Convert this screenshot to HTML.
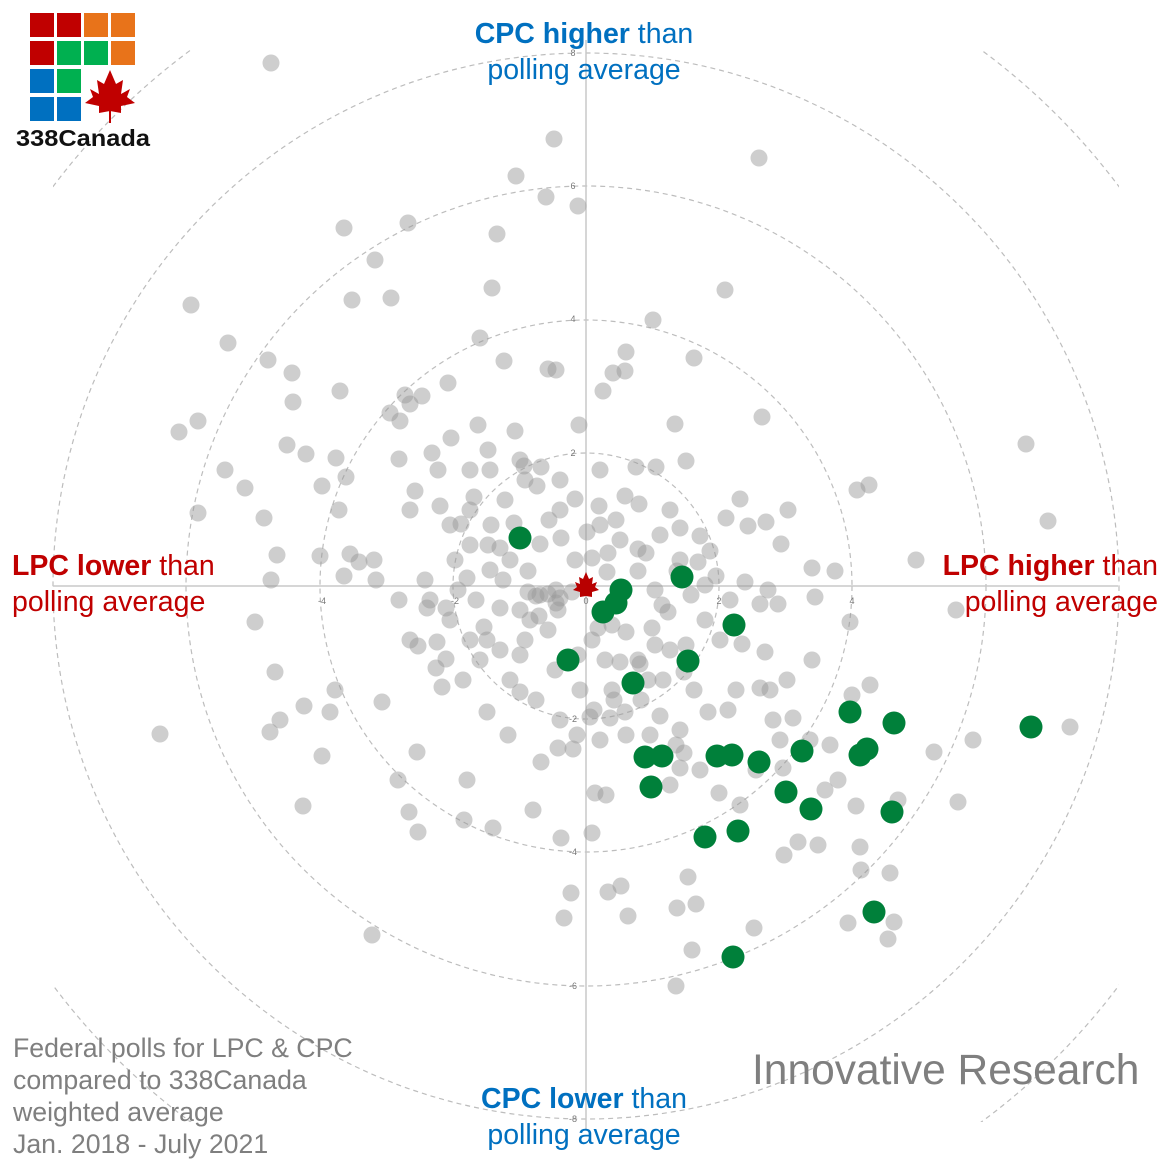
<!DOCTYPE html>
<html><head><meta charset="utf-8"><style>
html,body{margin:0;padding:0;background:#fff;overflow:hidden;}
svg{display:block;}
text{font-family:"Liberation Sans",sans-serif;}
</style></head><body>
<svg id="s" width="1172" height="1172" viewBox="0 0 1172 1172" xmlns="http://www.w3.org/2000/svg">
<defs><clipPath id="cp"><rect x="53" y="50" width="1066" height="1072"/></clipPath></defs>
<g fill="none" stroke="#bdbdbd" stroke-width="1.2" stroke-dasharray="5,4">
<circle cx="586" cy="586" r="133"/>
<circle cx="586" cy="586" r="266"/>
<circle cx="586" cy="586" r="400"/>
<circle cx="586" cy="586" r="533"/>
<circle cx="586" cy="586" r="666" clip-path="url(#cp)"/>
</g>
<line x1="586" y1="40" x2="586" y2="1130" stroke="#c8c8c8" stroke-width="1.5"/>
<line x1="53" y1="586" x2="1118" y2="586" stroke="#c8c8c8" stroke-width="1.5"/>
<g font-size="9" fill="#777" text-anchor="middle">
<text x="573" y="189">6</text><text x="573" y="322">4</text><text x="573" y="456">2</text><text x="573" y="56">8</text>
<text x="573" y="722">-2</text><text x="573" y="855">-4</text><text x="573" y="989">-6</text><text x="573" y="1122">-8</text>
<text x="719" y="604">2</text><text x="852" y="604">4</text><text x="455" y="604">-2</text><text x="322" y="604">-4</text><text x="586" y="604">0</text>
</g>
<g id="gray" fill="#999" fill-opacity="0.48"></g>
<path d="M586,572 l3,7 4,-2 -1,7 5,-2 -2,5 4,3 -7,2 0,5 -6,-1 -6,1 0,-5 -7,-2 4,-3 -2,-5 5,2 -1,-7 4,2z" fill="#b80000"/>
<g id="green" fill="#00803a"></g>
<g font-size="28.5">
<text x="584" y="43" text-anchor="middle" fill="#0070c0"><tspan font-weight="bold">CPC higher</tspan> than</text>
<text x="584" y="79" text-anchor="middle" fill="#0070c0">polling average</text>
<text x="584" y="1108" text-anchor="middle" fill="#0070c0"><tspan font-weight="bold">CPC lower</tspan> than</text>
<text x="584" y="1144" text-anchor="middle" fill="#0070c0">polling average</text>
<text x="12" y="575" fill="#c00000"><tspan font-weight="bold">LPC lower</tspan> than</text>
<text x="12" y="611" fill="#c00000">polling average</text>
<text x="1158" y="575" text-anchor="end" fill="#c00000"><tspan font-weight="bold">LPC higher</tspan> than</text>
<text x="1158" y="611" text-anchor="end" fill="#c00000">polling average</text>
</g>
<g font-size="26.7" fill="#7f7f7f">
<text x="13" y="1057">Federal polls for LPC &amp; CPC</text>
<text x="13" y="1089">compared to 338Canada</text>
<text x="13" y="1121">weighted average</text>
<text x="13" y="1153">Jan. 2018 - July 2021</text>
</g>
<text x="752" y="1084" font-size="42.5" fill="#7f7f7f">Innovative Research</text>
<g>
<rect x="30" y="13" width="24" height="24" fill="#c00000"/><rect x="57" y="13" width="24" height="24" fill="#c00000"/><rect x="84" y="13" width="24" height="24" fill="#e8731a"/><rect x="111" y="13" width="24" height="24" fill="#e8731a"/>
<rect x="30" y="41" width="24" height="24" fill="#c00000"/><rect x="57" y="41" width="24" height="24" fill="#00b050"/><rect x="84" y="41" width="24" height="24" fill="#00b050"/><rect x="111" y="41" width="24" height="24" fill="#e8731a"/>
<rect x="30" y="69" width="24" height="24" fill="#0070c0"/><rect x="57" y="69" width="24" height="24" fill="#00b050"/>
<rect x="30" y="97" width="24" height="24" fill="#0070c0"/><rect x="57" y="97" width="24" height="24" fill="#0070c0"/>
<path d="M110,70 l6,14 7,-4 -2,14 9,-5 -3,8 8,6 -14,3 0,7 -11,-2 -11,2 0,-7 -14,-3 8,-6 -3,-8 9,5 -2,-14 7,4z" fill="#c00000"/>
<line x1="110" y1="108" x2="110" y2="123" stroke="#c00000" stroke-width="2"/>
<text x="16" y="146" font-size="23" font-weight="bold" font-family="Liberation Serif,serif" fill="#111" textLength="134" lengthAdjust="spacingAndGlyphs">338Canada</text>
</g>
</svg>
<script>
var G=[[271,63],[554,139],[759,158],[516,176],[546,197],[578,206],[344,228],[408,223],[497,234],[375,260],[191,305],[352,300],[391,298],[492,288],[725,290],[228,343],[653,320],[626,352],[694,358],[268,360],[292,373],[340,391],[293,402],[480,338],[504,361],[548,369],[556,370],[613,373],[625,371],[603,391],[448,383],[422,396],[405,395],[179,432],[198,421],[287,445],[306,454],[336,458],[390,413],[400,421],[410,404],[432,453],[451,438],[478,425],[488,450],[515,431],[579,425],[675,424],[762,417],[1026,444],[225,470],[245,488],[198,513],[264,518],[322,486],[346,477],[339,510],[399,459],[438,470],[415,491],[410,510],[440,506],[474,497],[490,470],[524,466],[541,467],[505,500],[537,486],[636,467],[656,467],[686,461],[857,490],[869,485],[740,499],[788,510],[726,518],[766,522],[748,526],[781,544],[1048,521],[916,560],[812,568],[835,571],[815,597],[745,582],[768,590],[778,604],[760,604],[850,622],[956,610],[716,576],[691,595],[662,605],[677,571],[646,553],[608,553],[638,549],[587,532],[599,506],[616,520],[625,496],[639,504],[670,510],[680,528],[700,536],[710,551],[698,562],[680,560],[575,499],[560,510],[549,520],[514,523],[491,525],[470,510],[461,524],[488,545],[500,548],[540,544],[561,538],[575,560],[592,558],[607,572],[638,571],[467,578],[490,570],[528,571],[540,595],[560,598],[572,592],[520,610],[500,608],[476,600],[458,590],[446,608],[430,600],[418,646],[437,642],[446,659],[436,668],[463,680],[442,687],[487,640],[520,655],[548,630],[555,670],[578,655],[592,640],[605,660],[620,662],[640,664],[655,645],[670,650],[686,645],[720,640],[742,644],[765,652],[812,660],[320,556],[350,554],[374,560],[359,562],[277,555],[271,580],[344,576],[376,580],[425,580],[399,600],[427,608],[255,622],[275,672],[335,690],[330,712],[304,706],[280,720],[270,732],[382,702],[160,734],[322,756],[417,752],[398,780],[409,812],[418,832],[303,806],[467,780],[464,820],[493,828],[487,712],[520,692],[536,700],[508,735],[541,762],[573,749],[577,735],[558,748],[590,717],[610,718],[594,710],[614,700],[625,712],[641,700],[660,716],[680,730],[676,745],[680,768],[670,785],[708,712],[728,710],[736,690],[760,688],[773,720],[780,740],[793,718],[770,690],[787,680],[810,740],[830,745],[825,790],[838,780],[856,806],[852,695],[870,685],[898,800],[934,752],[973,740],[1070,727],[958,802],[860,847],[861,870],[890,873],[848,923],[894,922],[888,939],[784,855],[798,842],[818,845],[754,928],[696,904],[677,908],[688,877],[692,950],[676,986],[592,833],[561,838],[595,793],[606,795],[533,810],[571,893],[621,886],[608,892],[628,916],[564,918],[372,935],[719,793],[756,770],[783,768],[740,805],[684,753],[694,690],[684,672],[663,680],[638,660],[612,690],[580,690],[525,640],[500,650],[470,640],[484,627],[450,620],[539,616],[558,610],[556,590],[528,592],[503,580],[470,545],[536,596],[548,594],[556,603],[530,620],[612,625],[626,632],[598,628],[652,628],[668,612],[705,620],[730,600],[655,590],[705,585],[648,680],[600,740],[650,735],[700,770],[626,735],[455,560],[510,560],[525,480],[560,480],[600,470],[520,460],[470,470],[450,525],[620,540],[660,535],[600,525],[410,640],[480,660],[510,680],[560,720]];
var N=[[520,538],[682,577],[621,590],[616,603],[603,612],[734,625],[688,661],[568,660],[633,683],[850,712],[894,723],[1031,727],[645,757],[662,756],[717,756],[732,755],[759,762],[802,751],[867,749],[860,755],[651,787],[786,792],[811,809],[892,812],[705,837],[738,831],[874,912],[733,957]];
var ns="http://www.w3.org/2000/svg";
function add(id,a,r){var g=document.getElementById(id);a.forEach(function(p){var c=document.createElementNS(ns,"circle");c.setAttribute("cx",p[0]);c.setAttribute("cy",p[1]);c.setAttribute("r",r);g.appendChild(c);});}
add("gray",G,8.5);add("green",N,11.5);
</script>
</body></html>
